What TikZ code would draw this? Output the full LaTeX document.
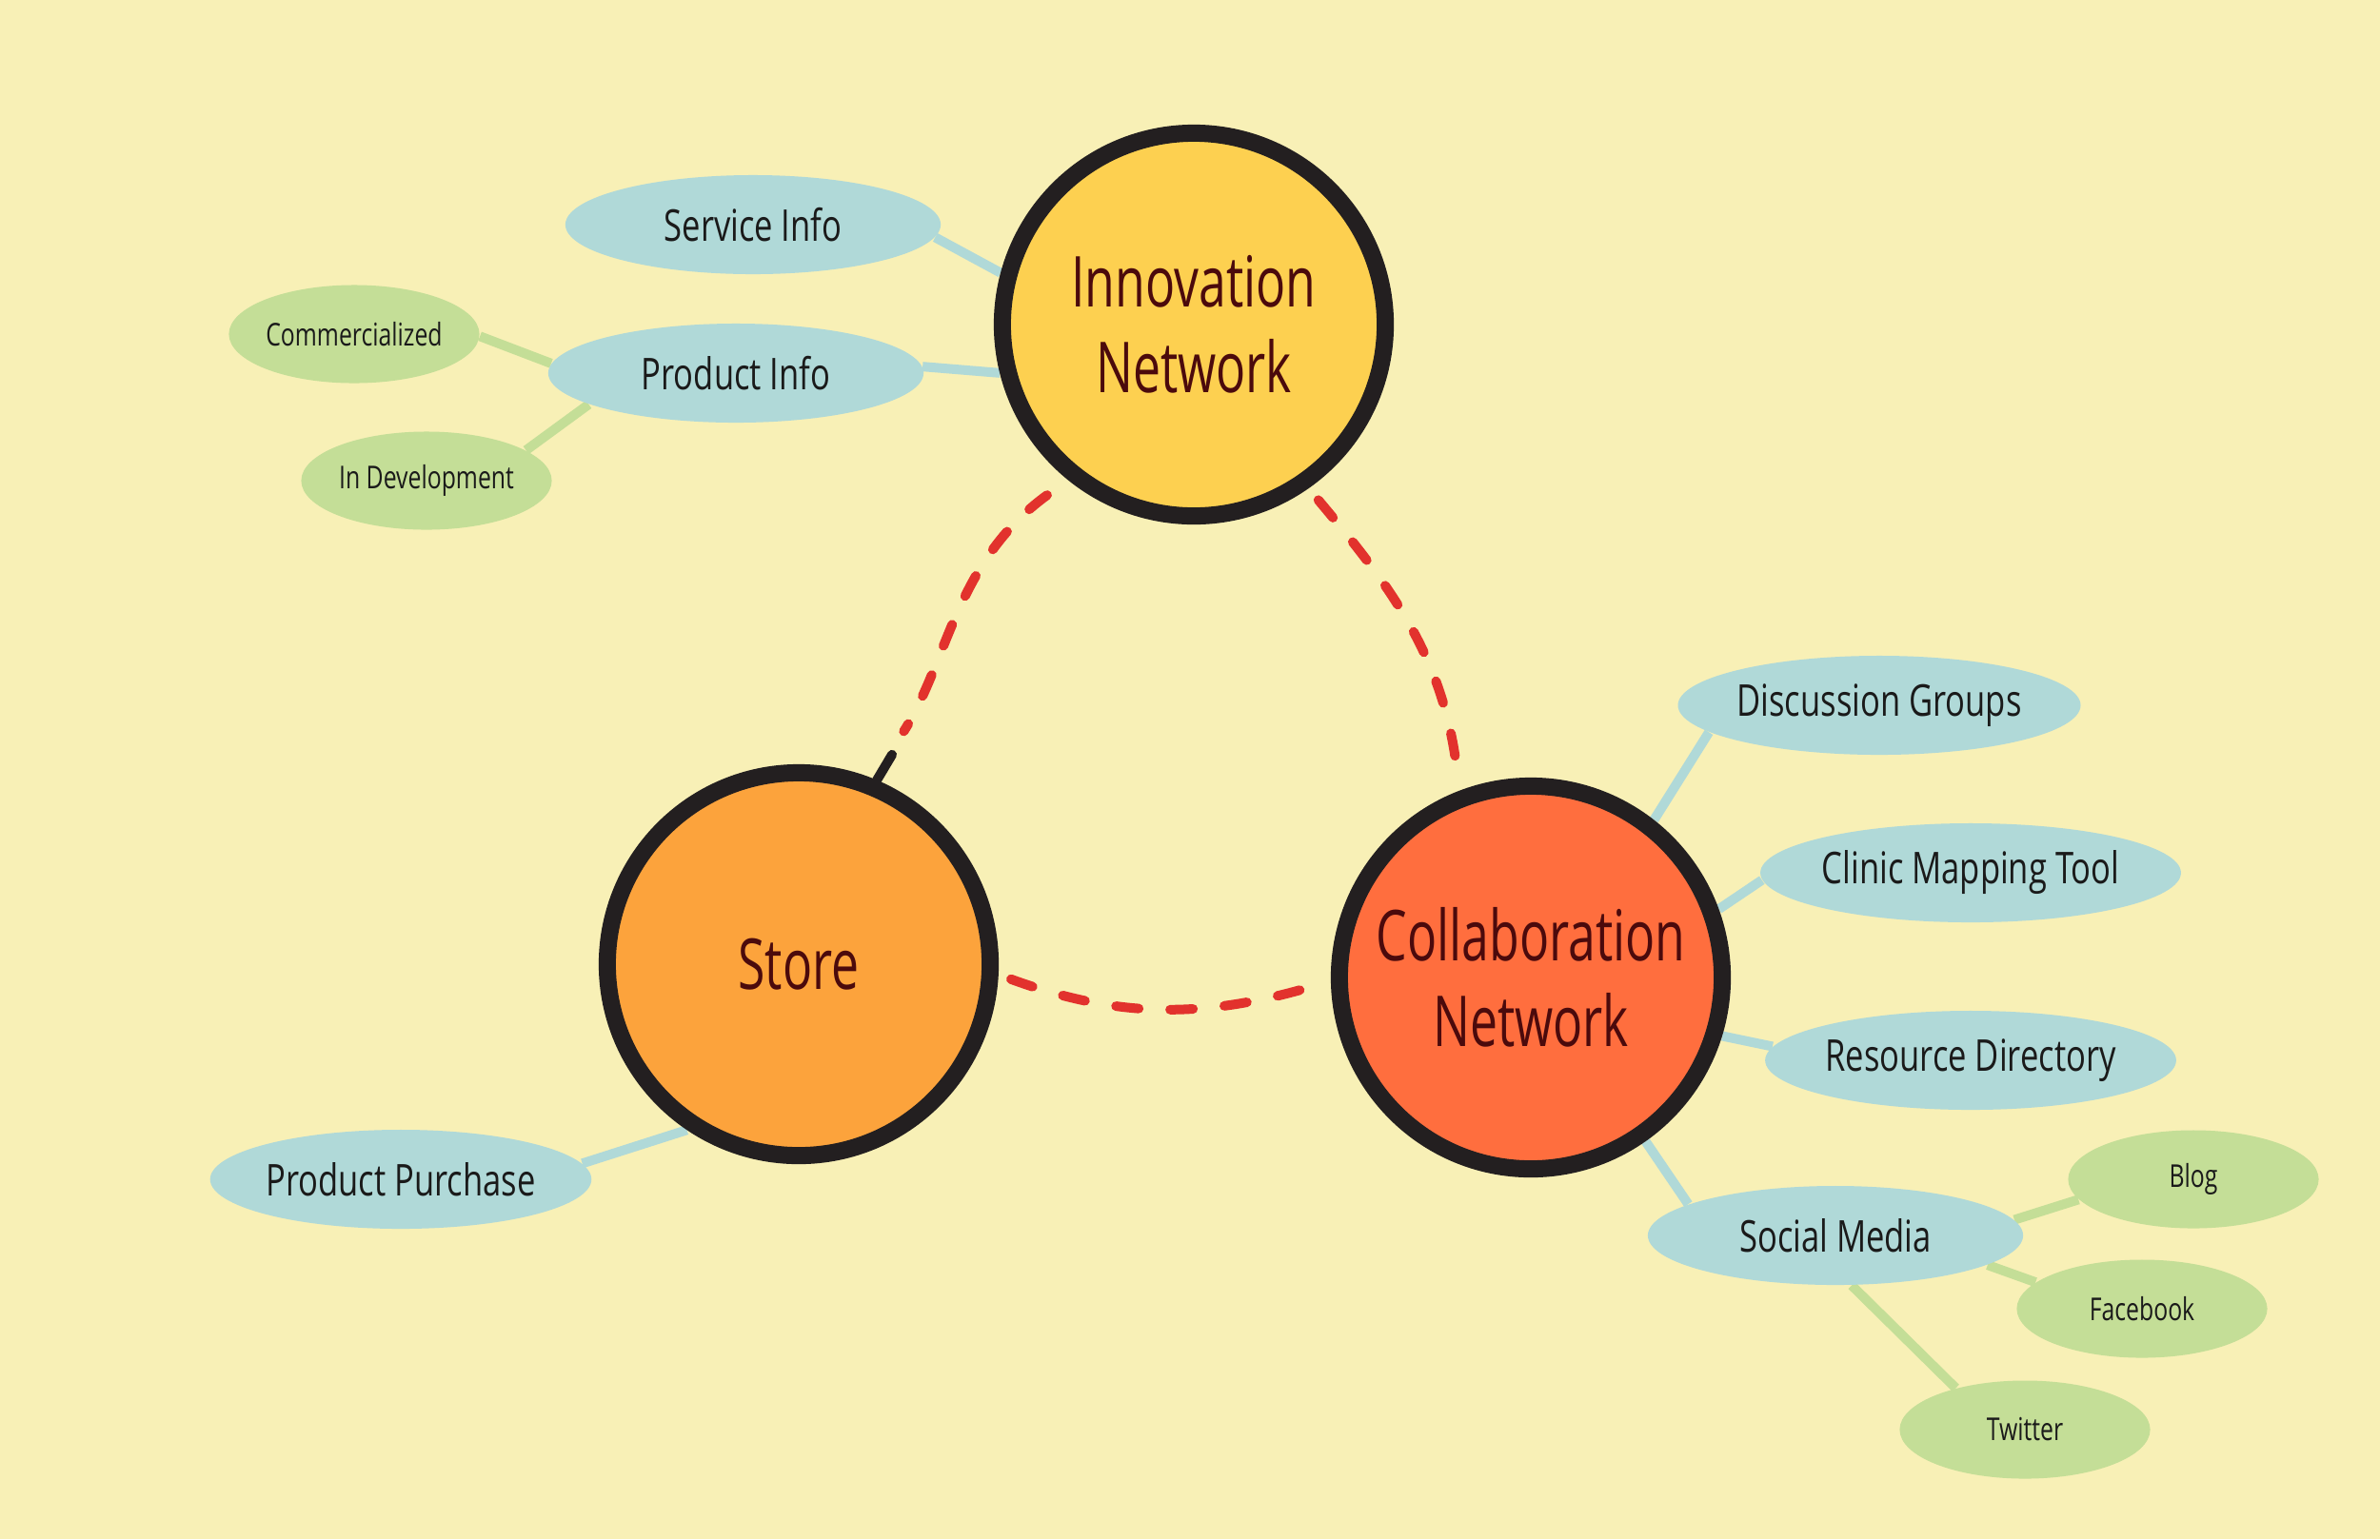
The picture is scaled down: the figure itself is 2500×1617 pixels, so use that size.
\documentclass[tikz,border=0pt]{standalone}
\usepackage{fontspec}
\setmainfont{Open Sans}[FakeStretch=0.75]
\newfontfamily\handc{Open Sans}[FakeStretch=0.7]
\usetikzlibrary{shapes.geometric,calc}
\definecolor{bgc}{HTML}{F8F0B6}
\definecolor{bluec}{HTML}{B0D9D8}
\definecolor{greenc}{HTML}{C4DE97}
\definecolor{innc}{HTML}{FDD050}
\definecolor{storec}{HTML}{FCA33C}
\definecolor{collc}{HTML}{FF6E3E}
\definecolor{redc}{HTML}{E2322D}
\definecolor{hubline}{HTML}{231F20}
\definecolor{maroon}{HTML}{4B0A0C}
\definecolor{txt}{HTML}{1A1A1A}
\pgfdeclarelayer{back}
\pgfsetlayers{back,main}
\begin{document}
\begin{tikzpicture}[x=0.01cm,y=0.01cm,
  hub/.style={circle, draw=hubline, line width=0.18cm, minimum size=4.02cm,
    inner sep=0pt, align=center, text=maroon,
    font={\handc\fontsize{21}{25.5}\selectfont}},
  bluenode/.style={ellipse, fill=bluec, minimum width=3.94cm, minimum height=1.04cm,
    inner sep=0pt, text=txt, font={\fontsize{13.1}{15}\selectfont}},
  greennode/.style={ellipse, fill=greenc, minimum width=2.63cm, minimum height=1.03cm,
    inner sep=0pt, text=txt, font={\fontsize{9.4}{11}\selectfont}},
  blueline/.style={draw=bluec, line width=0.1cm},
  greenline/.style={draw=greenc, line width=0.1cm},
  dashline/.style={draw=redc, line width=0.1cm, line cap=round,
    dash pattern=on 0.24cm off 0.33cm},
  ticktip/.style={draw=hubline, line width=0.1cm, line cap=round}
]
\begin{pgfonlayer}{back}
\fill[bgc] (0,0) rectangle (2500,-1617);
\end{pgfonlayer}
\useasboundingbox (0,0) rectangle (2500,-1617);

% hubs
\node[hub, fill=innc]   (inn)    at (1254,-341)  {Innovation\\Network};
\node[hub, fill=storec] (store)  at (839,-1013)  {Store};
\node[hub, fill=collc]  (collab) at (1608,-1027) {Collaboration\\Network};

% blue nodes
\node[bluenode] (serv)   at (791,-236)   {Service Info};
\node[bluenode] (prod)   at (773,-392)   {Product Info};
\node[bluenode] (pp)     at (421,-1239)  {Product Purchase};
\node[bluenode] (disc)   at (1974,-741)  {Discussion Groups};
\node[bluenode] (clinic) at (2070,-917)  {Clinic Mapping Tool};
\node[bluenode] (res)    at (2070,-1114) {Resource Directory};
\node[bluenode] (social) at (1928,-1298) {Social Media};

% green nodes
\node[greennode] (comm)  at (372,-351)   {Commercialized};
\node[greennode] (indev) at (448,-505)   {In Development};
\node[greennode] (blog)  at (2304,-1239) {Blog};
\node[greennode] (fb)    at (2250,-1375) {Facebook};
\node[greennode] (tw)    at (2127,-1502) {Twitter};

\begin{pgfonlayer}{back}
\draw[blueline] (serv.-4) -- (inn.165);
\draw[blueline] (prod.2) -- (inn.194);
\draw[greenline] (comm.-1) -- (prod.177);
\draw[greenline] (indev.17) -- (prod.192);
\draw[blueline] (pp.5) -- (store.236);
\draw[blueline] (disc.189.5) -- (collab.52);
\draw[blueline] (clinic.182) -- (collab.20);
\draw[blueline] (res.176) -- (collab.-17);
\draw[blueline] (social.168) -- (collab.-55);
\draw[greenline] (blog.190) -- (social.5);
\draw[greenline] (fb.166) -- (social.-11);
\draw[greenline] (tw.149) -- (social.-72);
\end{pgfonlayer}

% dashed relations
\draw[dashline, shorten <=0.27cm, shorten >=0.59cm] (inn.231.7) to[out=216,in=57.6] (store.68.8);
\coordinate (tickend) at ($(store.center)+(66:241)$);
\draw[ticktip] (store.67.8) -- (tickend);
\draw[dashline, shorten <=0.16cm, shorten >=0.15cm] (inn.305.5) to[out=-50,in=96] (collab.111.3);
\draw[dashline, shorten <=0.14cm, shorten >=0.09cm] (store.-3.6) to[out=-20,in=197] (collab.181);
\end{tikzpicture}
\end{document}
